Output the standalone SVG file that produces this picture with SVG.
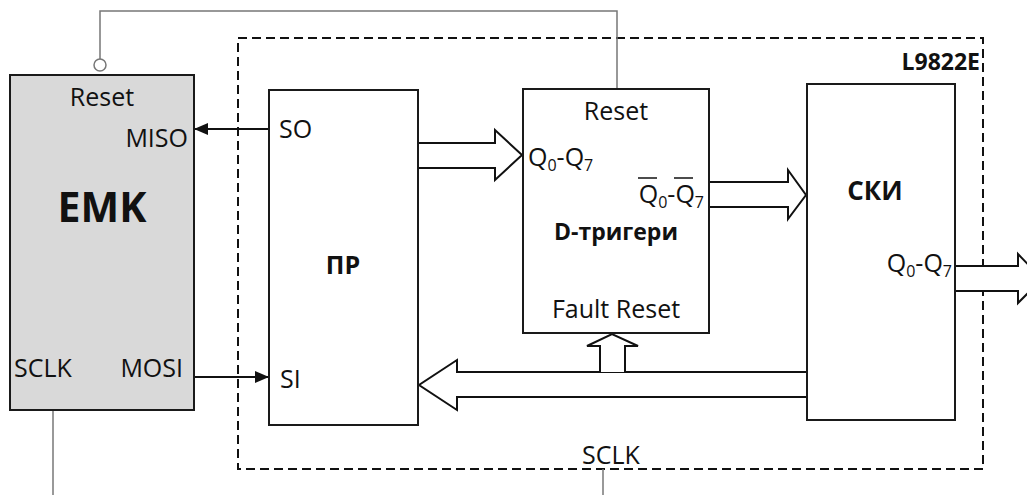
<svg xmlns="http://www.w3.org/2000/svg" width="1027" height="495" viewBox="0 0 1027 495">
<defs>
<style>
.box{fill:#fff;stroke:#1a1a1a;stroke-width:2}
.t{font-family:"Open Sans","Liberation Sans",sans-serif;font-size:25px;fill:#111}
.b{font-family:"Open Sans","Liberation Sans",sans-serif;font-weight:bold;fill:#111}
.ln{fill:none;stroke:#111;stroke-width:2}
.gl{fill:none;stroke:#777;stroke-width:1.5}
.bus{fill:#fff;stroke:#111;stroke-width:2;stroke-linejoin:miter}
.sub{font-size:16px}
</style>
<marker id="ah" markerWidth="14" markerHeight="12" refX="14" refY="6" orient="auto" markerUnits="userSpaceOnUse">
<path d="M0,0 L14,6 L0,12 Z" fill="#111"/>
</marker>
</defs>
<rect width="1027" height="495" fill="#fff"/>
<g id="l9822e">
<rect x="238" y="38" width="745" height="431" fill="none" stroke="#111" stroke-width="2" stroke-dasharray="9,5"/>
<text class="b" x="980" y="70" font-size="23" text-anchor="end">L9822E</text>
</g>
<g id="connectors">
<path class="gl" d="M100,59 V11 H617 V89"/>
<circle cx="100" cy="65" r="6" fill="#fff" stroke="#777" stroke-width="1.5"/>
<path class="gl" d="M53,410 V495"/>
<path class="gl" d="M603,469 V495"/>
<line class="ln" x1="269" y1="129" x2="194" y2="129" marker-end="url(#ah)"/>
<line class="ln" x1="194" y1="377" x2="269" y2="377" marker-end="url(#ah)"/>
<path class="bus" d="M418,143 H495 V130 L522,155 L495,180 V168 H418"/>
<path class="bus" d="M709,182 H788 V170 L806,195 L788,219 V207 H709"/>
<path class="bus" d="M955,266 H1018 V254 L1042,279 L1018,303 V291 H955"/>
<path class="bus" d="M807,372 H457 V360 L419,385 L457,410 V397 H807"/>
<path class="bus" d="M600,372 V346 H587 L612,334 L638,346 H625 V372"/>
</g>
<g id="emk">
<rect x="10" y="75" width="184" height="335" fill="#d9d9d9" stroke="#1a1a1a" stroke-width="2"/>
<text class="t" x="102" y="106" text-anchor="middle">Reset</text>
<text class="t" x="188" y="147" text-anchor="end">MISO</text>
<text class="b" x="102" y="222" font-size="41" text-anchor="middle">EMK</text>
<text class="t" x="14" y="377">SCLK</text>
<text class="t" x="183" y="377" text-anchor="end">MOSI</text>
</g>
<g id="pr">
<rect class="box" x="269" y="90" width="149" height="335"/>
<text class="t" x="279" y="138">SO</text>
<text class="b" x="343" y="274" font-size="25" text-anchor="middle">ПР</text>
<text class="t" x="280" y="388">SI</text>
</g>
<g id="dtrig">
<rect class="box" x="523" y="89" width="186" height="244"/>
<text class="t" x="616" y="120" text-anchor="middle">Reset</text>
<text class="t" x="528" y="166">Q<tspan class="sub" dy="5">0</tspan><tspan dy="-5">-Q</tspan><tspan class="sub" dy="5">7</tspan></text>
<text class="t" x="704" y="203" text-anchor="end">Q<tspan class="sub" dy="5">0</tspan><tspan dy="-5">-Q</tspan><tspan class="sub" dy="5">7</tspan></text>
<line x1="638" y1="178" x2="657" y2="178" stroke="#111" stroke-width="1.5"/>
<line x1="674" y1="178" x2="693" y2="178" stroke="#111" stroke-width="1.5"/>
<text class="b" x="616" y="240" font-size="23" text-anchor="middle">D-тригери</text>
<text class="t" x="616" y="318" font-size="23" text-anchor="middle">Fault Reset</text>
</g>
<g id="ski">
<rect class="box" x="807" y="84" width="148" height="336"/>
<text class="b" x="875" y="200" font-size="26" text-anchor="middle">СКИ</text>
<text class="t" x="952" y="272" text-anchor="end">Q<tspan class="sub" dy="5">0</tspan><tspan dy="-5">-Q</tspan><tspan class="sub" dy="5">7</tspan></text>
</g>
<g id="sclk-label">
<text class="t" x="611" y="464" text-anchor="middle">SCLK</text>
</g>
</svg>
